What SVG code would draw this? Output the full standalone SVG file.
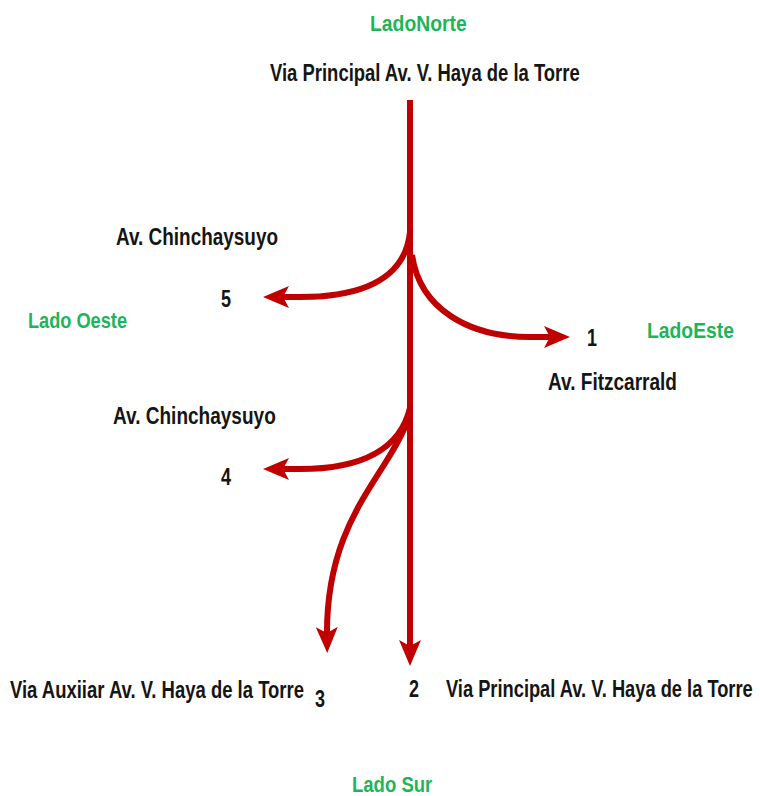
<svg xmlns="http://www.w3.org/2000/svg" width="760" height="796" viewBox="0 0 760 796">
  <defs>
    <marker id="head" markerUnits="userSpaceOnUse" markerWidth="30" markerHeight="26" refX="12" refY="13" orient="auto">
      <path d="M0,2 L26,13 L0,24 L6,13 Z" fill="#C00000"/>
    </marker>
    <style>
      .road { fill: none; stroke: #C00000; stroke-width: 6; stroke-linecap: butt; }
      .lbl { font-family: "Liberation Sans", Arial, sans-serif; font-size: 24px; font-weight: bold; fill: #151515; }
      .num { font-family: "Liberation Sans", Arial, sans-serif; font-size: 24px; font-weight: bold; fill: #151515; }
      .side { font-family: "Liberation Sans", Arial, sans-serif; font-size: 22px; font-weight: bold; fill: #1DB55A; }
    </style>
  </defs>
  <rect width="760" height="796" fill="#ffffff"/>

  <!-- traffic movements; each path stops 14px short of its arrow tip -->
  <g id="connectors">
    <path class="road" d="M410,100 L410,652" marker-end="url(#head)"/>
    <path class="road" d="M410,232 C405,280 360,297 300,297 L277,297" marker-end="url(#head)"/>
    <path class="road" d="M412,255 C420,310 470,337 530,337 L556,337" marker-end="url(#head)"/>
    <path class="road" d="M410,408 C400,450 360,469 300,469 L277,469" marker-end="url(#head)"/>
    <path class="road" d="M408,420 C385,480 325,520 327,639" marker-end="url(#head)"/>
  </g>

  <!-- sides (condensed lettering: horizontal scale 0.75) -->
  <g id="lado-norte"><text class="side" transform="translate(370,31) scale(0.75,1)" textLength="129" lengthAdjust="spacingAndGlyphs">LadoNorte</text></g>
  <g id="lado-oeste"><text class="side" transform="translate(28,328) scale(0.75,1)" textLength="132" lengthAdjust="spacingAndGlyphs">Lado Oeste</text></g>
  <g id="lado-este"><text class="side" transform="translate(647,338) scale(0.75,1)" textLength="116" lengthAdjust="spacingAndGlyphs">LadoEste</text></g>
  <g id="lado-sur"><text class="side" transform="translate(352,792) scale(0.75,1)" textLength="107" lengthAdjust="spacingAndGlyphs">Lado Sur</text></g>

  <!-- street names -->
  <g id="via-norte"><text class="lbl" transform="translate(270,81) scale(0.75,1)" textLength="413" lengthAdjust="spacingAndGlyphs">Via Principal Av. V. Haya de la Torre</text></g>
  <g id="chinchaysuyo-5"><text class="lbl" transform="translate(116,245) scale(0.75,1)" textLength="216" lengthAdjust="spacingAndGlyphs">Av. Chinchaysuyo</text></g>
  <g id="fitzcarrald"><text class="lbl" transform="translate(548,390) scale(0.75,1)" textLength="172" lengthAdjust="spacingAndGlyphs">Av. Fitzcarrald</text></g>
  <g id="chinchaysuyo-4"><text class="lbl" transform="translate(113,424) scale(0.75,1)" textLength="217" lengthAdjust="spacingAndGlyphs">Av. Chinchaysuyo</text></g>
  <g id="via-auxiliar"><text class="lbl" transform="translate(10,698) scale(0.75,1)" textLength="392" lengthAdjust="spacingAndGlyphs">Via Auxiiar Av. V. Haya de la Torre</text></g>
  <g id="via-sur"><text class="lbl" transform="translate(446,697) scale(0.75,1)" textLength="409" lengthAdjust="spacingAndGlyphs">Via Principal Av. V. Haya de la Torre</text></g>

  <!-- movement numbers -->
  <g id="n5"><text class="num" transform="translate(221,307) scale(0.75,1)">5</text></g>
  <g id="n1"><text class="num" transform="translate(587,346) scale(0.75,1)">1</text></g>
  <g id="n4"><text class="num" transform="translate(221,485) scale(0.75,1)">4</text></g>
  <g id="n3"><text class="num" transform="translate(315,707) scale(0.75,1)">3</text></g>
  <g id="n2"><text class="num" transform="translate(409,697) scale(0.75,1)">2</text></g>
</svg>
